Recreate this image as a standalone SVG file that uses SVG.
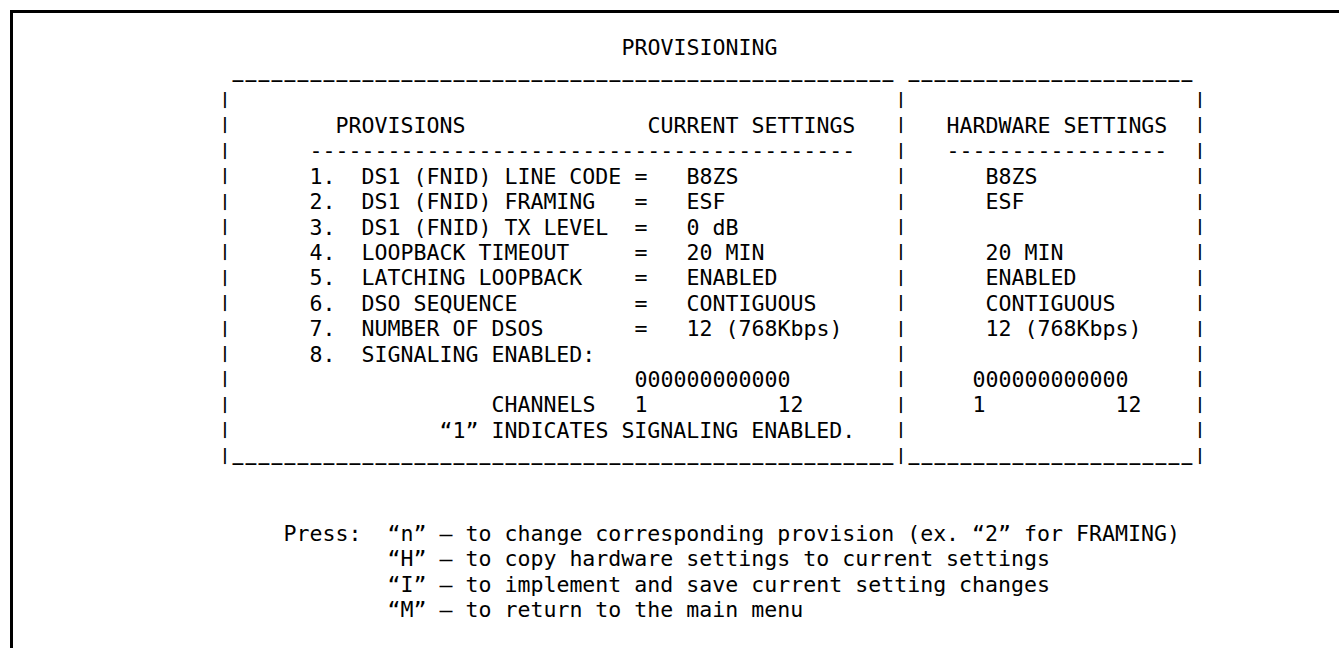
<svg xmlns="http://www.w3.org/2000/svg" width="1339" height="648" viewBox="0 0 1339 648">
<style>
  .t { font-family: "DejaVu Sans Mono", "Liberation Mono", monospace; font-size: 21.59px; fill: #000; }
  .u { font-family: "DejaVu Sans Mono", "Liberation Mono", monospace; font-size: 18px; font-weight: bold; letter-spacing: 2.163px; fill: #000; }
  .bar { font-family: "DejaVu Sans Mono", "Liberation Mono", monospace; font-size: 15.56px; font-weight: bold; fill: #000; text-anchor: middle; }
  .frame { fill: none; stroke: #000; stroke-width: 3; }
</style>
<rect x="0" y="0" width="1339" height="648" fill="#fff"/>
<g id="frame">
  <path class="frame" d="M11.5,648 V11.5 H1339"/>
</g>
<g id="title">
  <text class="t" x="621.5" y="55">PROVISIONING</text>
</g>
<g id="box-borders">
  <text class="u" x="232.5" y="78">___________________________________________________</text>
  <text class="u" x="908.5" y="78">______________________</text>
  <text class="u" x="232.5" y="461">___________________________________________________</text>
  <text class="u" x="908.5" y="461">______________________</text>
  <text class="bar"><tspan x="225" y="103.9">|</tspan><tspan x="225" y="129.3">|</tspan><tspan x="225" y="154.7">|</tspan><tspan x="225" y="180.1">|</tspan><tspan x="225" y="205.5">|</tspan><tspan x="225" y="230.9">|</tspan><tspan x="225" y="256.3">|</tspan><tspan x="225" y="281.7">|</tspan><tspan x="225" y="307.1">|</tspan><tspan x="225" y="332.5">|</tspan><tspan x="225" y="357.9">|</tspan><tspan x="225" y="383.3">|</tspan><tspan x="225" y="408.7">|</tspan><tspan x="225" y="434.1">|</tspan><tspan x="225" y="459.5">|</tspan></text>
  <text class="bar"><tspan x="901" y="103.9">|</tspan><tspan x="901" y="129.3">|</tspan><tspan x="901" y="154.7">|</tspan><tspan x="901" y="180.1">|</tspan><tspan x="901" y="205.5">|</tspan><tspan x="901" y="230.9">|</tspan><tspan x="901" y="256.3">|</tspan><tspan x="901" y="281.7">|</tspan><tspan x="901" y="307.1">|</tspan><tspan x="901" y="332.5">|</tspan><tspan x="901" y="357.9">|</tspan><tspan x="901" y="383.3">|</tspan><tspan x="901" y="408.7">|</tspan><tspan x="901" y="434.1">|</tspan><tspan x="901" y="459.5">|</tspan></text>
  <text class="bar"><tspan x="1200" y="103.9">|</tspan><tspan x="1200" y="129.3">|</tspan><tspan x="1200" y="154.7">|</tspan><tspan x="1200" y="180.1">|</tspan><tspan x="1200" y="205.5">|</tspan><tspan x="1200" y="230.9">|</tspan><tspan x="1200" y="256.3">|</tspan><tspan x="1200" y="281.7">|</tspan><tspan x="1200" y="307.1">|</tspan><tspan x="1200" y="332.5">|</tspan><tspan x="1200" y="357.9">|</tspan><tspan x="1200" y="383.3">|</tspan><tspan x="1200" y="408.7">|</tspan><tspan x="1200" y="434.1">|</tspan><tspan x="1200" y="459.5">|</tspan></text>
</g>
<g id="current-settings">
  <text class="t" y="133"><tspan x="335.5">PROVISIONS</tspan><tspan x="647.5">CURRENT SETTINGS</tspan></text>
  <text class="t" x="309.5" y="158.4">------------------------------------------</text>
  <text class="t" y="183.8"><tspan x="309.5">1.</tspan><tspan x="361.5">DS1 (FNID) LINE CODE</tspan><tspan x="634.5">=</tspan><tspan x="686.5">B8ZS</tspan></text>
  <text class="t" y="209.2"><tspan x="309.5">2.</tspan><tspan x="361.5">DS1 (FNID) FRAMING</tspan><tspan x="634.5">=</tspan><tspan x="686.5">ESF</tspan></text>
  <text class="t" y="234.6"><tspan x="309.5">3.</tspan><tspan x="361.5">DS1 (FNID) TX LEVEL</tspan><tspan x="634.5">=</tspan><tspan x="686.5">0 dB</tspan></text>
  <text class="t" y="260"><tspan x="309.5">4.</tspan><tspan x="361.5">LOOPBACK TIMEOUT</tspan><tspan x="634.5">=</tspan><tspan x="686.5">20 MIN</tspan></text>
  <text class="t" y="285.4"><tspan x="309.5">5.</tspan><tspan x="361.5">LATCHING LOOPBACK</tspan><tspan x="634.5">=</tspan><tspan x="686.5">ENABLED</tspan></text>
  <text class="t" y="310.8"><tspan x="309.5">6.</tspan><tspan x="361.5">DSO SEQUENCE</tspan><tspan x="634.5">=</tspan><tspan x="686.5">CONTIGUOUS</tspan></text>
  <text class="t" y="336.2"><tspan x="309.5">7.</tspan><tspan x="361.5">NUMBER OF DSOS</tspan><tspan x="634.5">=</tspan><tspan x="686.5">12 (768Kbps)</tspan></text>
  <text class="t" y="361.6"><tspan x="309.5">8.</tspan><tspan x="361.5">SIGNALING ENABLED:</tspan></text>
  <text class="t" x="634.5" y="387">000000000000</text>
  <text class="t" y="412.4"><tspan x="491.5">CHANNELS</tspan><tspan x="634.5">1</tspan><tspan x="777.5">12</tspan></text>
  <text class="t" x="439.5" y="437.8">“1” INDICATES SIGNALING ENABLED.</text>
</g>
<g id="hardware-settings">
  <text class="t" x="946.5" y="133">HARDWARE SETTINGS</text>
  <text class="t" x="946.5" y="158.4">-----------------</text>
  <text class="t" x="985.5" y="183.8">B8ZS</text>
  <text class="t" x="985.5" y="209.2">ESF</text>
  <text class="t" x="985.5" y="260">20 MIN</text>
  <text class="t" x="985.5" y="285.4">ENABLED</text>
  <text class="t" x="985.5" y="310.8">CONTIGUOUS</text>
  <text class="t" x="985.5" y="336.2">12 (768Kbps)</text>
  <text class="t" x="972.5" y="387">000000000000</text>
  <text class="t" y="412.4"><tspan x="972.5">1</tspan><tspan x="1115.5">12</tspan></text>
</g>
<g id="key-legend">
  <text class="t" x="283.5" y="541">Press:</text>
  <text class="t" x="387.5" y="541">“n” – to change corresponding provision (ex. “2” for FRAMING)</text>
  <text class="t" x="387.5" y="566.4">“H” – to copy hardware settings to current settings</text>
  <text class="t" x="387.5" y="591.8">“I” – to implement and save current setting changes</text>
  <text class="t" x="387.5" y="617.2">“M” – to return to the main menu</text>
</g>
</svg>
